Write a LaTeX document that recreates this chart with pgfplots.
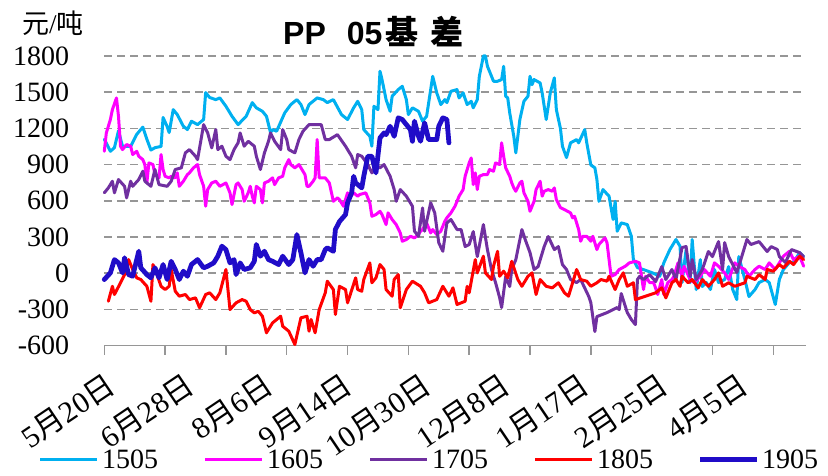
\documentclass[border=0pt]{standalone}
\usepackage{fontspec}
\setmainfont{Liberation Serif}
\newfontfamily\cjk{Noto Sans CJK SC}
\newfontfamily\sans{Liberation Sans}
\usepackage{pgfplots}
\pgfplotsset{compat=1.18}
\definecolor{c1505}{RGB}{0,176,240}
\definecolor{c1605}{RGB}{255,0,255}
\definecolor{c1705}{RGB}{112,48,160}
\definecolor{c1805}{RGB}{255,0,0}
\definecolor{c1905}{RGB}{32,12,200}
\definecolor{gridc}{RGB}{150,150,150}
\newcommand{\yue}{{\cjk 月}}
\newcommand{\ri}{{\cjk 日}}
\newcommand{\lbl}[1]{{\fontsize{30}{32}\selectfont #1}}
\newcommand{\leg}[3]{{\color{#1}\rule[#3]{57pt}{#2}}\hspace{5pt}}
\begin{document}
\begin{tikzpicture}[x=1pt,y=1pt]
\path[use as bounding box] (0,0) rectangle (828,476);
\begin{axis}[
  at={(104.3pt,130.3pt)}, anchor=south west,
  width=701.4pt, height=289.8pt, scale only axis,
  xmin=0, xmax=346, ymin=-600, ymax=1800,
  clip=false,
  separate axis lines,
  axis x line*=bottom, axis y line*=left,
  y axis line style={draw=none},
  x axis line style={draw=gridc, line width=1.5pt, -},
  xtick={0,30,...,330}, xticklabels={},
  x tick style={draw=gridc, line width=1.5pt},
  major tick length=9pt, tick align=outside,
  ytick={-600,-300,...,1800},
  yticklabels={-600,-300,0,300,600,900,1200,1500,1800},
  y tick style={draw=none},
  ymajorgrids, grid style={gridc, line width=1.5pt, dash pattern=on 8pt off 5pt},
  extra x ticks={0,39,78,117,156,195,234,273,312},
  extra x tick labels={\lbl{5\yue20\ri},\lbl{6\yue28\ri},\lbl{8\yue6\ri},\lbl{9\yue14\ri},\lbl{10\yue30\ri},\lbl{12\yue8\ri},\lbl{1\yue17\ri},\lbl{2\yue25\ri},\lbl{4\yue5\ri}},
  extra x tick style={major tick length=0pt, grid=none,
    xticklabel style={yshift=-25pt, rotate=34, anchor=north east, inner sep=0pt}},
  yticklabel style={font=\fontsize{28}{30}\selectfont, anchor=east, inner sep=0pt, xshift=-26pt},
  every axis plot/.append style={line join=round, line cap=round},
  legend columns=5,
  legend image code/.code={},
  legend style={at={(-0.0917,-0.3944)}, anchor=west, draw=none, fill=none, inner sep=0pt,
    font=\fontsize{28}{30}\selectfont, nodes={inner sep=0pt},
    /tikz/every odd column/.append style={column sep=0pt},
    /tikz/every even column/.append style={column sep=47pt}},
]
\addplot[c1505, line width=3pt] coordinates {
(0,1110)(3,1010)(5,1040)(7,1180)(9,1050)(13,1050)(16,1150)(19,1210)(21,1110)(23,1020)(25,1040)(28,1050)(29,1290)(31,1215)(32,1165)(34,1355)(36,1314)(39,1217)(41,1190)(43,1259)(46,1231)(49,1273)(50,1496)(52,1455)(55,1438)(57,1452)(60,1383)(63,1300)(66,1231)(70,1300)(73,1413)(75,1370)(78,1341)(80,1300)(82,1165)(83,1190)(85,1176)(89,1328)(92,1397)(95,1438)(97,1397)(99,1314)(101,1397)(105,1452)(108,1438)(110,1413)(113,1438)(117,1314)(120,1273)(123,1370)(125,1424)(127,1355)(128,1190)(131,1134)(132,1052)(133,1383)(135,1355)(136,1673)(137,1604)(139,1438)(141,1341)(142,1466)(145,1521)(147,1548)(149,1438)(150,1314)(152,1370)(155,1341)(157,1259)(159,1300)(162,1631)(164,1494)(166,1397)(168,1438)(169,1413)(171,1507)(174,1521)(175,1452)(177,1494)(179,1397)(181,1424)(182,1370)(184,1438)(185,1631)(186,1714)(187,1800)(188,1800)(189,1714)(190,1673)(192,1590)(194,1590)(196,1604)(197,1714)(198,1466)(199,1452)(200,1328)(202,1134)(203,997)(205,1273)(207,1424)(209,1466)(210,1631)(211,1562)(212,1604)(215,1576)(216,1494)(218,1273)(220,1494)(222,1618)(223,1355)(225,1200)(226,1052)(228,958)(230,1080)(233,1107)(234,1080)(237,1190)(238,1080)(240,897)(242,873)(243,777)(244,596)(246,693)(249,638)(251,445)(252,596)(253,348)(255,417)(258,403)(260,306)(261,113)(263,47)(266,30)(270,6)(274,-25)(276,86)(279,196)(282,279)(284,224)(285,-77)(287,196)(289,-77)(290,279)(292,-135)(294,113)(295,-110)(297,-77)(299,-135)(301,31)(303,-77)(306,-52)(308,55)(310,-135)(312,-218)(313,138)(316,-52)(318,-193)(321,-135)(323,-77)(326,-52)(328,-77)(331,-259)(333,-52)(335,31)(338,89)(340,89)(343,171)(345,138)
};
\addlegendentry{\leg{c1505}{3pt}{7.8pt}1505}
\addplot[c1605, line width=3pt] coordinates {
(0,1010)(1,1162)(3,1273)(4,1355)(6,1452)(7,1300)(8,1052)(9,1024)(11,1066)(13,1052)(14,983)(16,1010)(17,969)(19,941)(20,900)(21,748)(22,914)(24,900)(25,817)(27,790)(28,983)(29,859)(30,803)(32,790)(33,803)(35,790)(36,831)(37,720)(39,762)(41,817)(42,831)(44,873)(46,900)(47,817)(49,720)(50,555)(51,693)(53,748)(55,762)(57,720)(60,748)(62,666)(63,569)(65,734)(66,748)(68,693)(69,596)(71,666)(72,720)(73,638)(74,583)(75,720)(77,693)(78,583)(79,748)(81,762)(83,790)(84,734)(86,790)(88,803)(89,873)(91,941)(92,900)(94,873)(96,900)(97,873)(99,817)(100,720)(101,720)(103,762)(104,790)(105,1107)(106,790)(109,790)(111,748)(113,596)(115,624)(116,610)(118,555)(120,666)(121,624)(123,666)(125,638)(126,652)(129,666)(131,583)(132,472)(134,486)(136,513)(137,486)(139,403)(140,500)(142,445)(144,403)(146,334)(147,265)(149,279)(151,306)(153,293)(155,320)(156,348)(157,362)(159,417)(161,334)(162,362)(164,320)(166,348)(168,431)(169,459)(171,500)(173,555)(174,596)(175,638)(177,693)(178,803)(180,914)(181,955)(182,734)(183,831)(184,693)(185,803)(187,817)(189,817)(190,859)(192,845)(193,914)(195,900)(196,1080)(197,969)(198,873)(200,803)(201,748)(202,707)(203,679)(205,748)(206,762)(207,666)(209,596)(210,513)(212,596)(213,693)(215,762)(216,638)(217,679)(219,693)(221,679)(222,707)(223,610)(225,544)(227,527)(230,500)(231,459)(232,472)(234,362)(235,265)(236,306)(238,306)(240,265)(241,306)(243,196)(244,238)(247,293)(248,252)(250,-25)(252,-11)(254,31)(257,58)(259,86)(262,99)(264,86)(266,-135)(267,-25)(269,-77)(271,-77)(273,-176)(275,-52)(276,-176)(278,-77)(280,-52)(281,-25)(283,86)(285,-25)(286,58)(289,-52)(291,-77)(294,-25)(296,31)(299,-25)(301,86)(303,58)(306,3)(308,-52)(311,86)(313,58)(316,31)(318,-25)(321,31)(323,58)(326,31)(328,86)(331,31)(333,86)(335,141)(338,182)(340,113)(343,141)(345,58)
};
\addlegendentry{\leg{c1605}{3pt}{7.8pt}1605}
\addplot[c1705, line width=3pt] coordinates {
(0,666)(2,707)(4,762)(5,666)(7,776)(10,720)(11,624)(13,762)(14,720)(17,776)(19,845)(20,762)(23,720)(25,859)(27,734)(31,720)(33,762)(35,859)(38,873)(40,997)(42,1024)(45,969)(46,941)(48,1134)(49,1231)(51,1162)(53,1038)(55,1190)(56,1024)(58,1052)(60,969)(62,941)(64,1024)(66,1080)(67,1162)(69,1052)(71,1093)(74,1052)(75,969)(77,859)(79,997)(81,1093)(82,1162)(84,1093)(87,1024)(88,1190)(90,1107)(91,1024)(94,997)(96,1107)(98,1176)(101,1231)(103,1231)(105,1231)(107,1231)(109,1107)(111,1107)(115,1148)(119,1052)(122,969)(124,873)(125,983)(127,969)(130,900)(132,831)(134,900)(136,873)(138,900)(141,803)(143,693)(144,596)(146,693)(149,638)(152,555)(153,348)(155,306)(157,541)(158,348)(161,583)(163,500)(165,252)(167,182)(169,417)(171,445)(174,362)(176,362)(178,221)(180,238)(182,345)(184,138)(187,403)(189,196)(191,31)(193,-77)(195,-201)(196,-284)(198,-27)(200,-110)(201,31)(203,113)(205,279)(206,362)(208,262)(210,171)(212,31)(214,55)(217,221)(219,304)(222,196)(224,221)(226,72)(228,31)(230,-52)(233,-77)(235,-52)(239,-193)(240,-243)(242,-483)(243,-359)(248,-326)(253,-284)(254,-301)(255,-168)(258,-326)(260,-383)(262,-425)(263,-52)(264,-27)(266,-52)(269,-11)(272,-69)(275,55)(277,-52)(280,31)(282,-52)(285,213)(287,221)(289,-27)(290,113)(292,-52)(295,31)(298,180)(300,138)(303,262)(305,31)(306,254)(308,138)(312,6)(314,113)(317,279)(319,238)(323,262)(327,180)(329,221)(332,196)(333,138)(336,89)(339,196)(343,171)(345,138)
};
\addlegendentry{\leg{c1705}{3pt}{7.8pt}1705}
\addplot[c1805, line width=3pt] coordinates {
(2,-232)(4,-108)(5,-176)(8,-79)(10,-11)(12,113)(14,31)(16,-38)(18,-52)(21,-108)(23,-232)(24,72)(26,-11)(28,-108)(30,-135)(32,-108)(33,31)(35,-149)(37,-190)(40,-176)(42,-218)(45,-204)(47,-286)(50,-176)(52,-162)(55,-218)(57,-162)(60,31)(62,-301)(65,-245)(68,-218)(70,-232)(72,-301)(74,-328)(76,-315)(78,-356)(80,-493)(83,-411)(87,-356)(88,-439)(91,-480)(94,-590)(97,-369)(100,-356)(101,-480)(102,-383)(104,-493)(106,-301)(109,-162)(110,-66)(113,-135)(114,-342)(116,-108)(119,-135)(120,-245)(124,-38)(125,-135)(127,-149)(128,-52)(131,86)(132,-79)(134,-38)(136,72)(138,31)(139,-135)(142,-190)(143,-52)(145,-11)(146,-286)(149,-135)(152,-66)(156,-108)(158,-162)(160,-245)(164,-218)(167,-108)(170,-190)(172,-121)(174,-259)(178,-232)(179,-108)(180,-162)(183,113)(184,3)(187,141)(188,3)(191,-52)(192,58)(194,182)(195,-25)(197,17)(199,-38)(201,99)(204,-52)(206,-108)(209,-25)(211,3)(213,-176)(215,-52)(218,-108)(221,-121)(224,-79)(227,-162)(229,-190)(233,31)(235,-52)(238,-66)(240,-108)(243,-79)(245,-52)(248,-66)(249,-25)(252,-135)(254,-52)(256,3)(258,-108)(261,-79)(262,-218)(267,-190)(272,-162)(275,-121)(277,-204)(280,-79)(282,-52)(284,-108)(285,-25)(288,-79)(290,-52)(293,-121)(295,-52)(298,-108)(301,-52)(303,3)(305,-108)(308,-79)(311,-108)(316,-79)(317,-25)(321,-52)(323,-11)(326,-52)(327,31)(330,17)(333,72)(335,45)(338,99)(340,72)(343,141)(345,113)
};
\addlegendentry{\leg{c1805}{3pt}{7.8pt}1805}
\addplot[c1905, line width=4.8pt] coordinates {
(0,-52)(3,3)(5,113)(7,86)(9,3)(10,128)(12,-11)(14,-25)(17,182)(18,45)(21,-11)(23,-38)(25,45)(27,-38)(29,72)(31,-52)(33,99)(35,31)(37,-52)(39,17)(41,-25)(43,72)(46,113)(49,45)(51,58)(54,86)(56,141)(58,224)(60,196)(62,86)(64,113)(65,-11)(67,86)(69,31)(72,45)(74,99)(75,238)(77,141)(79,182)(81,113)(83,99)(86,72)(88,141)(91,72)(93,113)(95,320)(97,169)(99,3)(101,113)(103,58)(105,113)(107,113)(109,196)(110,210)(113,182)(114,362)(116,428)(119,486)(120,583)(122,666)(123,803)(124,748)(127,707)(128,803)(130,969)(132,969)(133,900)(134,831)(136,1121)(138,1162)(139,1148)(141,1217)(143,1134)(145,1287)(147,1273)(149,1231)(151,1190)(152,1093)(153,1259)(155,1134)(156,1093)(158,1245)(160,1107)(164,1107)(165,1217)(167,1287)(169,1273)(170,1080)
};
\addlegendentry{\leg{c1905}{4.8pt}{7pt}1905}
\end{axis}
\node[anchor=base west, inner sep=0pt] at (283,431) {{\sans\bfseries\fontsize{32}{36}\selectfont PP\hspace{21pt}05}\hspace{3pt}{\cjk\bfseries\fontsize{33}{36}\selectfont 基\hspace{12pt}差}};
\node[anchor=west, inner sep=0pt] at (22,452.5) {\fontsize{27}{30}\selectfont{\cjk 元}/{\cjk 吨}};
\end{tikzpicture}
\end{document}
